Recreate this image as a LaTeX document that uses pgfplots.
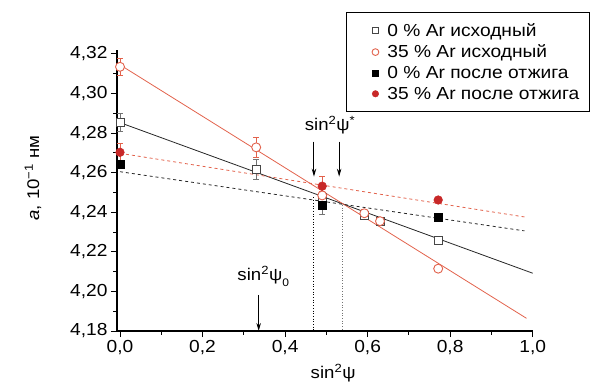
\documentclass[border=0pt]{standalone}
\usepackage{fontspec}
\setmainfont{Liberation Sans}[FakeStretch=1.1]
\usepackage{pgfplots}
\pgfplotsset{compat=1.18}
\usetikzlibrary{arrows.meta}
\definecolor{cred}{RGB}{226,98,76}
\definecolor{cdred}{RGB}{200,40,40}
\definecolor{cgray}{RGB}{115,115,115}
\definecolor{csq}{RGB}{70,70,70}
\pgfplotsset{myleg/.style={legend image code/.code={%
  \path[draw=none, fill=none] (-26bp,0bp) -- (10bp,0bp);
  \draw[##1, scale=0.75] plot coordinates {(0bp,0bp)};}}}
\begin{document}
\begin{tikzpicture}
\begin{axis}[
 scale only axis, width=415.7bp, height=281bp,
 xmin=-0.0073, xmax=1.0, ymin=4.18, ymax=4.322,
 clip=false,
 axis lines*=left, axis line style={line width=1.1bp},
 xtick={0,0.2,0.4,0.6,0.8,1.0},
 ytick={4.18,4.20,4.22,4.24,4.26,4.28,4.30,4.32},
 minor tick num=1, tick align=outside,
 major tick length=6bp, minor tick length=3.5bp,
 tick style={line width=1bp, black},
 /pgf/number format/.cd, use comma, fixed, fixed zerofill, assume math mode=true,
 /pgfplots/.cd,
 xticklabel style={/pgf/number format/precision=1, font=\fontsize{17.5}{20}\selectfont},
 yticklabel style={/pgf/number format/precision=2, font=\fontsize{17.5}{20}\selectfont},
 xlabel={sin\textsuperscript{2}ψ},
 ylabel={\textit{a}, 10\textsuperscript{−1} нм},
 label style={font=\fontsize{17}{20}\selectfont},
 xlabel style={at={(axis description cs:0.52,-0.149)}, anchor=center},
 ylabel style={at={(axis description cs:-0.202,0.544)}, anchor=center},
 legend style={at={(0.551,1.135)}, anchor=north west, draw=black, line width=0.8bp,
   font=\fontsize{17.5}{20}\selectfont, inner xsep=3bp, inner ysep=9bp, row sep=3bp,
   /tikz/every even column/.append style={column sep=9bp}},
 legend cell align=left,
]
% fitted lines
\addplot[black!85, line width=0.8bp, forget plot] coordinates {(0,4.2853) (1.0,4.2092)};
\addplot[cred, line width=0.8bp, forget plot] coordinates {(0,4.3145) (0.985,4.1864)};
\addplot[black!85, dashed, line width=0.8bp, forget plot] coordinates {(0,4.2605) (0.98,4.2306)};
\addplot[cred, dashed, line width=0.8bp, forget plot] coordinates {(0,4.2698) (0.984,4.2375)};
% dotted verticals
\addplot[black, dotted, line width=0.7bp, forget plot] coordinates {(0.468,4.2475) (0.468,4.18)};
\addplot[cgray, dotted, line width=0.7bp, forget plot] coordinates {(0.539,4.2437) (0.539,4.18)};
% data
\addplot[only marks, myleg, mark=square*, mark size=4bp, mark options={draw=csq, fill=white, line width=0.9bp},
  error bars/.cd, y dir=both, y explicit,
  error bar style={cgray, line width=0.8bp},
  error mark options={rotate=90, mark size=3bp, cgray, line width=0.8bp}]
 coordinates {(0,4.2855) +- (0,0.0047) (0.33,4.2615) +- (0,0.005) (0.49,4.2475) +- (0,0.002)
  (0.592,4.2386) +- (0,0.002) (0.63,4.2353) +- (0,0.0015) (0.771,4.226) +- (0,0.0015)};
\addlegendentry{0 \% Ar исходный}
\addplot[only marks, myleg, mark=*, mark size=4.5bp, mark options={draw=cred, fill=white, line width=0.9bp},
  error bars/.cd, y dir=both, y explicit,
  error bar style={cred, line width=0.8bp},
  error mark options={rotate=90, mark size=3bp, cred, line width=0.8bp}]
 coordinates {(0,4.3135) +- (0,0.0045) (0.33,4.2728) +- (0,0.005) (0.49,4.2485) +- (0,0.002)
  (0.592,4.2395) +- (0,0.002) (0.63,4.2355) +- (0,0.0015) (0.771,4.2115) +- (0,0.0015)};
\addlegendentry{35 \% Ar исходный}
\addplot[only marks, myleg, mark=square*, mark size=4bp, mark options={draw=black, fill=black, line width=0.5bp},
  error bars/.cd, y dir=both, y explicit,
  error bar style={cgray, line width=0.8bp},
  error mark options={rotate=90, mark size=3bp, cgray, line width=0.8bp}]
 coordinates {(0,4.2643) +- (0,0.002) (0.49,4.2435) +- (0,0.0046) (0.771,4.2375) +- (0,0.001)};
\addlegendentry{0 \% Ar после отжига}
\addplot[only marks, myleg, mark=*, mark size=4.3bp, mark options={draw=cdred, fill=cdred, line width=0.5bp},
  error bars/.cd, y dir=both, y explicit,
  error bar style={cred, line width=0.8bp},
  error mark options={rotate=90, mark size=3bp, cred, line width=0.8bp}]
 coordinates {(0,4.2703) +- (0,0.0045) (0.49,4.2532) +- (0,0.0048) (0.771,4.2462) +- (0,0.001)};
\addlegendentry{35 \% Ar после отжига\hspace*{5bp}}
% annotations
\draw[line width=1bp, -{Stealth[length=8bp, width=4.5bp]}] (axis cs:0.470,4.2757) -- (axis cs:0.470,4.258);
\draw[line width=1bp, -{Stealth[length=8bp, width=4.5bp]}] (axis cs:0.531,4.2757) -- (axis cs:0.531,4.258);
\draw[line width=1bp, -{Stealth[length=8bp, width=4.5bp]}] (axis cs:0.336,4.1982) -- (axis cs:0.336,4.18);
\node[anchor=base, font=\fontsize{17}{20}\selectfont, inner sep=0pt] at (axis cs:0.509,4.2811) {sin\textsuperscript{2}ψ\textsuperscript{*}};
\node[anchor=base, font=\fontsize{17}{20}\selectfont, inner sep=0pt] at (axis cs:0.347,4.2053) {sin\textsuperscript{2}ψ\raisebox{-0.6ex}{\fontsize{11}{12}\selectfont 0}};
\end{axis}
\pgfresetboundingbox
\useasboundingbox (-117bp,-54bp) rectangle (486bp,331bp);
\end{tikzpicture}
\end{document}
